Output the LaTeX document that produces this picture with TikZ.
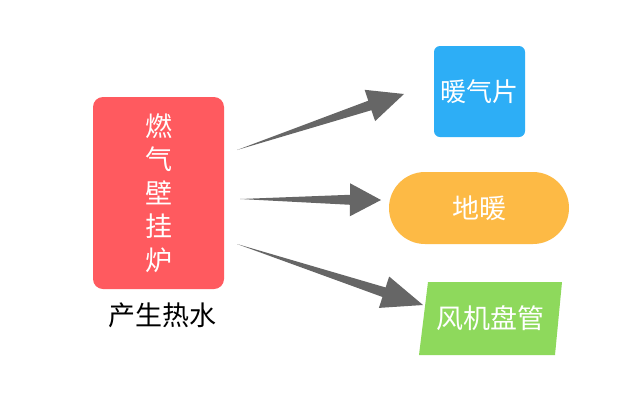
\documentclass[tikz,border=0pt]{standalone}
\usepackage{fontspec}
\setmainfont{Noto Sans CJK SC}
\usetikzlibrary{calc}
\definecolor{boilerred}{HTML}{FF5A5F}
\definecolor{radblue}{HTML}{2DAEF6}
\definecolor{floororange}{HTML}{FDBA45}
\definecolor{fangreen}{HTML}{8ED95C}
\definecolor{arrowgray}{HTML}{666666}
\newcommand\taperarrow[3]{% #1 tail, #2 tip, #3 head length
  \path (#2) coordinate (tp) ($(#2)!#3pt!(#1)$) coordinate (hb);
  \fill[arrowgray] (#1) -- ($(hb)!5pt!90:(tp)$) -- ($(hb)!16.5pt!90:(tp)$) -- (tp)
    -- ($(hb)!16.5pt!-90:(tp)$) -- ($(hb)!5pt!-90:(tp)$) -- cycle;
}
\tikzset{
  boxtext/.style={text=white, font=\fontsize{26}{30}\selectfont, inner sep=0pt},
}
\begin{document}
\begin{tikzpicture}[x=1pt,y=-1pt]
\useasboundingbox[fill=white] (0,0) rectangle (640,400);
% boiler
\node[fill=boilerred, rounded corners=10pt, minimum width=131pt, minimum height=192pt,
      inner sep=0pt, text=white, align=center, font=\fontsize{27}{33.5}\selectfont]
  (boiler) at (158.5,193) {燃\\气\\壁\\挂\\炉};
\node[font=\fontsize{27}{30}\selectfont, inner sep=0pt] (hotwater) at (162.5,315) {产生热水};
% targets
\node[fill=radblue, rounded corners=6pt, minimum width=91pt, minimum height=91pt,
      boxtext] (rad) at (479.5,91.5) {暖气片};
\node[fill=floororange, rounded corners=36pt, minimum width=180pt, minimum height=72pt,
      boxtext, font=\fontsize{27}{30}\selectfont] (floor) at (479,208) {地暖};
\fill[fangreen] (428,282) -- (562,282) -- (555,355) -- (419,355) -- cycle;
\node[boxtext, font=\fontsize{27}{30}\selectfont] (fan) at (490,318.5) {风机盘管};
% arrows
\coordinate (t1) at (237,150); \coordinate (h1) at (404,94);
\coordinate (t2) at (240,199); \coordinate (h2) at (381,200);
\coordinate (t3) at (237,244); \coordinate (h3) at (423,305);
\taperarrow{t1}{h1}{36}
\taperarrow{t2}{h2}{31}
\taperarrow{t3}{h3}{41}
\end{tikzpicture}
\end{document}
